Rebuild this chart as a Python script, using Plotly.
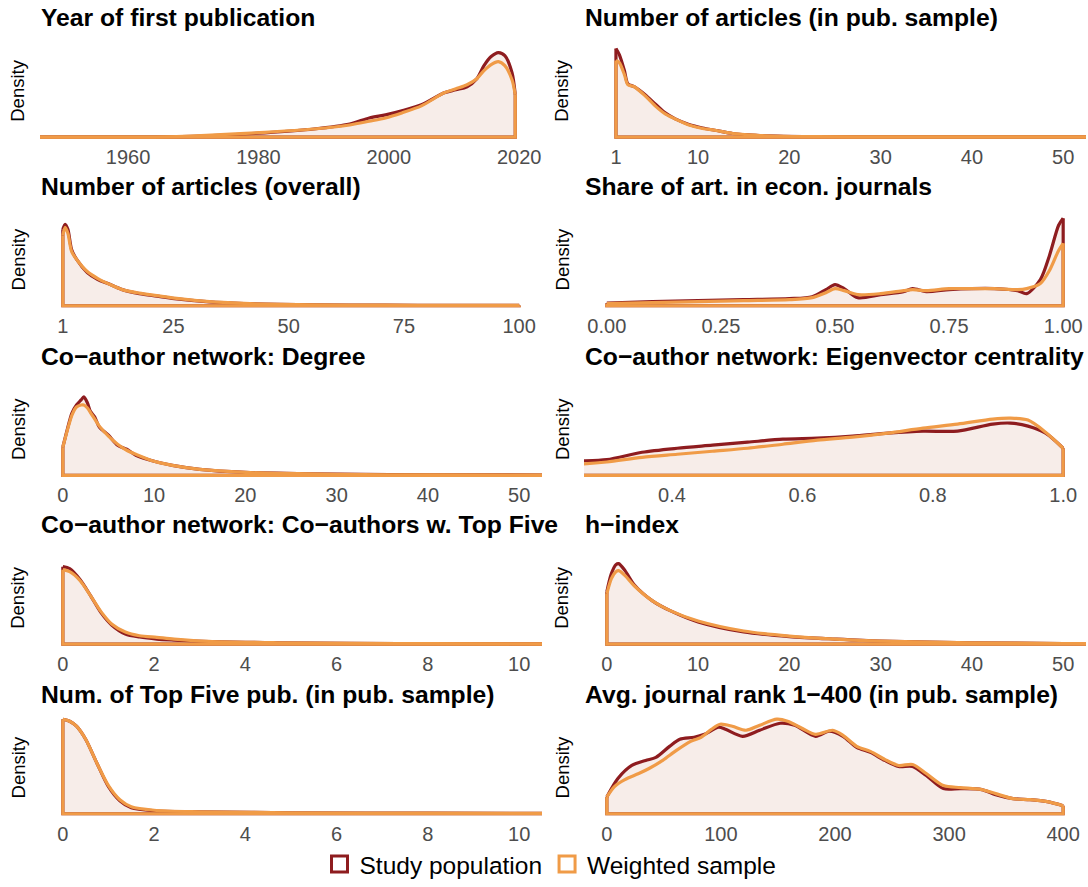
import plotly.graph_objects as go

# ---------------- data (relative density) ----------------
titles = [
    "Year of first publication", "Number of articles (in pub. sample)",
    "Number of articles (overall)", "Share of art. in econ. journals",
    "Co\u2212author network: Degree", "Co\u2212author network: Eigenvector centrality",
    "Co\u2212author network: Co\u2212authors w. Top Five", "h\u2212index",
    "Num. of Top Five pub. (in pub. sample)", "Avg. journal rank 1\u2212400 (in pub. sample)",
]

# 1 Year of first publication
year_x = [1940, 1946.5, 1964, 1972, 1981, 1988.5, 1994, 1997, 1999.5, 2002, 2005, 2008.5, 2010.3, 2012, 2013.5, 2014.6, 2015.7, 2016.8, 2017.8, 2018.9, 2019.4]
year_pop = [0, 0, 0, .012, .042, .08, .13, .19, .22, .26, .32, .44, .47, .50, .58, .71, .80, .84, .81, .64, .42]
year_w = [0, 0, 0, .017, .047, .08, .12, .157, .19, .24, .31, .44, .48, .52, .58, .66, .72, .75, .71, .57, .42]

# 2 Number of articles (in pub. sample)
artpub_x = [1, 1.37, 1.93, 2.3, 3.0, 4.2, 5.3, 6.4, 7.5, 9, 10.5, 12, 13.8, 16.4, 19.4, 23, 30, 40, 60]
artpub_pop = [.88, .82, .66, .53, .50, .42, .33, .24, .18, .125, .09, .065, .035, .017, .008, .004, .002, .001, .001]
artpub_w = [.76, .74, .62, .52, .50, .41, .31, .23, .18, .12, .085, .065, .035, .018, .008, .004, .002, .001, .001]

# 3 Number of articles (overall)
artall_x = [1, 1.5, 2.1, 2.9, 4, 6.3, 8.6, 10.8, 13.9, 17.6, 21.4, 25.2, 32.8, 40.3, 47.9, 63, 78, 100]
artall_pop = [.76, .81, .76, .56, .46, .33, .26, .22, .16, .12, .095, .07, .038, .022, .013, .007, .004, .003]
artall_w = [.70, .78, .72, .54, .46, .34, .27, .22, .16, .125, .10, .075, .04, .023, .013, .007, .004, .003]

# 4 Share of articles in econ journals
share_x = [0, 0.1, 0.2, 0.3, 0.4, 0.45, 0.48, 0.5, 0.52, 0.55, 0.6, 0.65, 0.67, 0.7, 0.75, 0.8, 0.85, 0.9, 0.92, 0.95, 0.97, 0.99, 1.0]
share_pop = [.025, .04, .05, .06, .07, .09, .16, .21, .17, .08, .11, .14, .17, .14, .16, .17, .17, .15, .12, .26, .50, .80, .87]
share_w = [.02, .03, .04, .05, .06, .08, .13, .17, .15, .11, .12, .15, .16, .15, .17, .17, .17, .16, .17, .22, .35, .55, .62]

# 5 Degree
deg_x = [0, 0.5, 1, 1.5, 2, 2.3, 2.7, 3, 3.5, 4, 5, 6, 7, 8, 10, 12, 15, 20, 30, 40, 60]
deg_pop = [.28, .46, .62, .70, .75, .78, .72, .64, .58, .48, .40, .30, .26, .20, .14, .10, .06, .03, .012, .006, .003]
deg_w = [.28, .45, .60, .68, .70, .70, .67, .63, .56, .49, .39, .31, .25, .21, .14, .10, .06, .03, .01, .005, .003]

# 6 Eigenvector centrality
eig_x = [0.2, 0.255, 0.30, 0.354, 0.408, 0.462, 0.516, 0.570, 0.623, 0.677, 0.731, 0.785, 0.838, 0.892, 0.919, 0.946, 0.973, 1.0]
eig_pop = [.13, .143, .157, .23, .27, .30, .33, .36, .37, .39, .42, .44, .44, .51, .52, .49, .42, .27]
eig_w = [.10, .11, .133, .18, .21, .24, .27, .31, .35, .38, .42, .47, .51, .56, .57, .55, .43, .27]

# 7 Co-authors w. Top Five
cot5_x = [0, 0.15, 0.38, 0.61, 0.84, 1.07, 1.37, 1.68, 2.06, 2.44, 3.2, 4.7, 6.3, 8, 12]
cot5_pop = [.77, .75, .64, .48, .31, .19, .10, .07, .05, .04, .025, .013, .007, .004, .002]
cot5_w = [.74, .72, .63, .48, .32, .20, .12, .083, .067, .05, .027, .013, .007, .004, .002]

# 8 h-index
hidx_x = [0, 0.5, 1, 1.3, 2, 3, 5, 7, 10, 15, 20, 25, 30, 40, 50, 60]
hidx_pop = [.52, .70, .79, .80, .73, .59, .43, .33, .22, .12, .075, .05, .03, .013, .006, .004]
hidx_w = [.50, .65, .72, .73, .68, .58, .43, .33, .23, .13, .08, .05, .03, .013, .006, .004]

# 9 Num. of Top Five pub.
t5_x = [0, 0.15, 0.3, 0.5, 0.75, 1, 1.25, 1.5, 2, 3, 5, 8, 12]
t5_pop = [.94, .92, .87, .74, .50, .27, .13, .06, .03, .02, .01, .006, .004]
t5_w = [.94, .92, .87, .74, .50, .28, .14, .07, .035, .02, .01, .006, .004]

# 10 Avg. journal rank
rank_x_pop = [0, 9.7, 21.9, 34, 43, 55, 64, 76.5, 85.6, 98, 104, 119, 134, 152, 164.6, 183, 195, 207, 219, 231, 243.6, 255.7, 268, 280, 295, 310, 328.6, 340.8, 356, 371, 386, 400]
rank_pop = [.167, .35, .48, .53, .56, .67, .74, .76, .79, .86, .84, .77, .83, .90, .88, .77, .82, .77, .66, .61, .53, .47, .47, .38, .25, .25, .24, .19, .15, .14, .12, .08]
rank_x_w = [0, 6.7, 15.8, 28, 37, 49, 61, 73.5, 82.6, 91.7, 99.3, 110, 122, 134, 149, 158.5, 171, 183, 198, 207, 219, 231, 243.6, 255.7, 268, 280, 295, 310, 328.6, 340.8, 356, 371, 386, 400]
rank_w = [.167, .27, .34, .40, .45, .53, .63, .72, .76, .84, .89, .87, .83, .88, .94, .92, .85, .79, .83, .78, .67, .62, .54, .48, .49, .40, .28, .26, .24, .20, .15, .14, .12, .08]

panels = [
    (year_x, year_pop, year_x, year_w, [1946.5, 2023.5], [1960, 1980, 2000, 2020], None),
    (artpub_x, artpub_pop, artpub_x, artpub_w, [-2.5, 52.5], [1, 10, 20, 30, 40, 50], None),
    (artall_x, artall_pop, artall_x, artall_w, [-3.95, 104.95], [1, 25, 50, 75, 100], None),
    (share_x, share_pop, share_x, share_w, [-0.05, 1.05], [0, 0.25, 0.5, 0.75, 1.0], ["0.00", "0.25", "0.50", "0.75", "1.00"]),
    (deg_x, deg_pop, deg_x, deg_w, [-2.5, 52.5], [0, 10, 20, 30, 40, 50], None),
    (eig_x, eig_pop, eig_x, eig_w, [0.265, 1.035], [0.4, 0.6, 0.8, 1.0], ["0.4", "0.6", "0.8", "1.0"]),
    (cot5_x, cot5_pop, cot5_x, cot5_w, [-0.5, 10.5], [0, 2, 4, 6, 8, 10], None),
    (hidx_x, hidx_pop, hidx_x, hidx_w, [-2.5, 52.5], [0, 10, 20, 30, 40, 50], None),
    (t5_x, t5_pop, t5_x, t5_w, [-0.5, 10.5], [0, 2, 4, 6, 8, 10], None),
    (rank_x_pop, rank_pop, rank_x_w, rank_w, [-20, 420], [0, 100, 200, 300, 400], None),
]

series_names = ["Study population", "Weighted sample"]
RED = "#8E1C1F"
ORANGE = "#F09B47"
FILL = "#F7EDE9"

# ---------------- layout geometry ----------------
W, H = 1088, 887
col_x = [(40, 542), (584, 1086)]
base_y = [139, 310, 482, 653, 825]
FONT = "Liberation Sans, Arial, Helvetica, sans-serif"
LW = 3.2

fig = go.Figure()
layout = dict(
    width=W, height=H, margin=dict(l=0, r=0, t=0, b=0),
    paper_bgcolor="white", plot_bgcolor="white",
    font=dict(family=FONT, color="black"),
    showlegend=True,
)
annotations = []

for i, (xp, yp, xw, yw, xr, tv, tt) in enumerate(panels):
    row, col = divmod(i, 2)
    n = i + 1
    xa = "x" if n == 1 else f"x{n}"
    ya = "y" if n == 1 else f"y{n}"
    b = base_y[row]
    x0, x1 = col_x[col]
    top_px, bot_px = b - 99, b + 4
    layout["xaxis" if n == 1 else f"xaxis{n}"] = dict(
        domain=[x0 / W, x1 / W], anchor=ya, range=xr, tickvals=tv,
        ticktext=tt if tt else [str(v) for v in tv],
        showgrid=False, zeroline=False, showline=False, ticks="",
        tickfont=dict(size=20, color="#4D4D4D", family=FONT), ticklabelstandoff=2,
    )
    layout["yaxis" if n == 1 else f"yaxis{n}"] = dict(
        domain=[1 - bot_px / H, 1 - top_px / H], anchor=xa, range=[-0.04, 0.97],
        showgrid=False, zeroline=False, showline=False, showticklabels=False, ticks="",
    )
    # fills under both curves
    for fx, fy in ((xp, yp), (xw, yw)):
        fig.add_trace(go.Scatter(x=fx, y=fy, xaxis=xa, yaxis=ya, mode="lines", fill="tozeroy",
                                 fillcolor=FILL, line=dict(width=0, color=FILL, shape="spline", smoothing=0.8),
                                 showlegend=False, hoverinfo="skip"))
    # outlines: smooth curve + straight sides/baseline
    for fx, fy, c, nm in ((xp, yp, RED, series_names[0]), (xw, yw, ORANGE, series_names[1])):
        fig.add_trace(go.Scatter(x=[fx[0], fx[0], fx[-1], fx[-1]], y=[fy[0], 0, 0, fy[-1]],
                                 xaxis=xa, yaxis=ya, mode="lines", line=dict(color=c, width=LW),
                                 showlegend=False, hoverinfo="skip"))
        fig.add_trace(go.Scatter(x=fx, y=fy, xaxis=xa, yaxis=ya, mode="lines",
                                 line=dict(color=c, width=LW, shape="spline", smoothing=0.8),
                                 showlegend=False, name=nm))
    annotations.append(dict(text=f"<b>{titles[i]}</b>", xref="paper", yref="paper",
                            x=(x0 - 1) / W, y=1 - (b - 121) / H, xanchor="left", yanchor="middle",
                            showarrow=False, font=dict(size=24.7, color="black", family=FONT)))
    annotations.append(dict(text="Density", xref="paper", yref="paper",
                            x=(x0 - 22) / W, y=1 - (b - 47) / H, xanchor="center", yanchor="middle",
                            textangle=-90, showarrow=False, font=dict(size=18.5, color="black", family=FONT)))

for name, c in zip(series_names, [RED, ORANGE]):
    fig.add_trace(go.Scatter(x=[None], y=[None], mode="markers", name=name,
                             marker=dict(symbol="square-open", size=20, color=c, line=dict(width=3, color=c)),
                             showlegend=True))

layout["annotations"] = annotations
layout["legend"] = dict(orientation="h", x=0.506, xanchor="center", y=1 - 876 / H, yanchor="middle",
                        font=dict(size=24.5, family=FONT, color="black"), bgcolor="rgba(0,0,0,0)",
                        itemwidth=30, tracegroupgap=0)
fig.update_layout(**layout)
fig.write_html("out.html", config={"displayModeBar": False},
               post_script="document.body.style.margin='0';")
